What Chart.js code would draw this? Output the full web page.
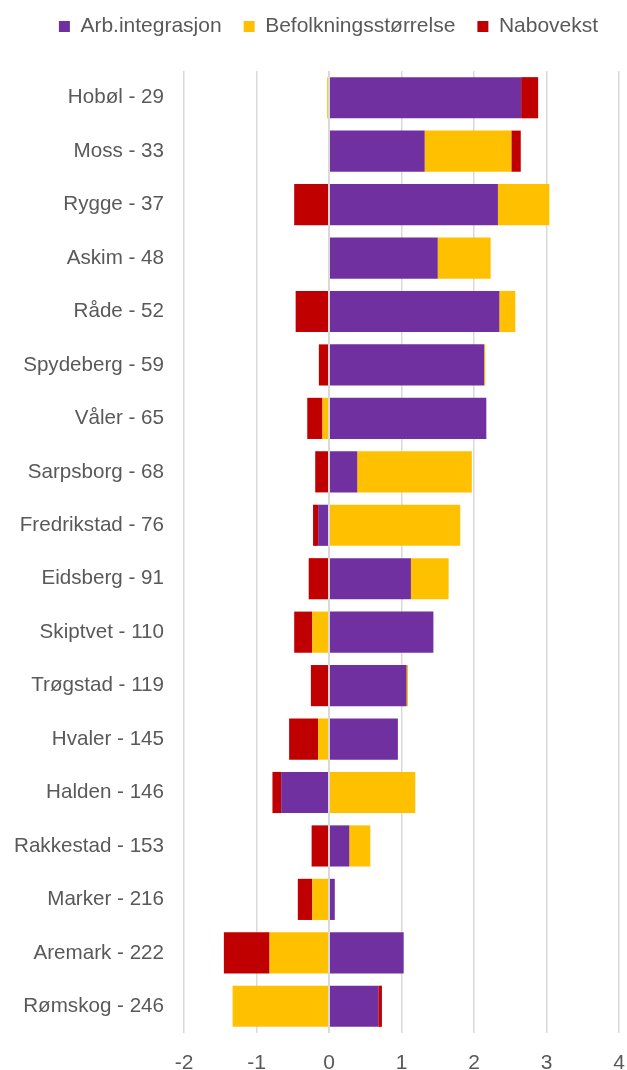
<!DOCTYPE html>
<html>
<head>
<meta charset="utf-8">
<script src="https://cdn.jsdelivr.net/npm/chart.js@4/dist/chart.umd.min.js"></script>
<style>
  html, body { margin: 0; padding: 0; background: #fff; }
  #wrap { width: 627px; height: 1070px; }
</style>
</head>
<body>
<div id="wrap"><canvas id="chart" width="627" height="1070"></canvas></div>
<script>
// kommune labels (top to bottom)
const kommuner = [
  "Hobøl - 29", "Moss - 33", "Rygge - 37", "Askim - 48", "Råde - 52",
  "Spydeberg - 59", "Våler - 65", "Sarpsborg - 68", "Fredrikstad - 76",
  "Eidsberg - 91", "Skiptvet - 110", "Trøgstad - 119", "Hvaler - 145",
  "Halden - 146", "Rakkestad - 153", "Marker - 216", "Aremark - 222",
  "Rømskog - 246"
];

const arbIntegrasjon = [2.65, 1.32, 2.33, 1.50, 2.35, 2.14, 2.17, 0.39, -0.15,
  1.13, 1.44, 1.07, 0.95, -0.66, 0.28, 0.08, 1.03, 0.68];
const befolkning = [-0.025, 1.195, 0.71, 0.73, 0.22, 0.015, -0.09, 1.58, 1.81,
  0.52, -0.23, 0.02, -0.15, 1.19, 0.29, -0.23, -0.82, -1.33];
const nabovekst = [0.235, 0.13, -0.48, 0, -0.46, -0.14, -0.21, -0.19, -0.07,
  -0.28, -0.25, -0.25, -0.40, -0.12, -0.24, -0.20, -0.63, 0.05];

const xMin = -2, xMax = 4;

const textColor = "#595959";
const gridColor = "#d9d9d9";
const fontFamily = "'Liberation Sans', Arial, sans-serif";

// zero line sits on top of the bars, like the Excel vertical axis
const zeroLine = {
  id: "zeroLine",
  afterDatasetsDraw(chart) {
    const { ctx, chartArea, scales } = chart;
    const x = scales.x.getPixelForValue(0);
    ctx.save();
    ctx.strokeStyle = gridColor;
    ctx.lineWidth = 2;
    ctx.beginPath();
    ctx.moveTo(x, chartArea.top);
    ctx.lineTo(x, chartArea.bottom);
    ctx.stroke();
    ctx.restore();
  }
};

// extra room under the legend, and nudge it a bit right
const legendTweak = {
  id: "legendTweak",
  beforeInit(chart) {
    const fit = chart.legend.fit;
    chart.legend.fit = function () {
      fit.call(this);
      this.height += 24;
    };
    const draw = chart.legend.draw;
    chart.legend.draw = function () {
      this.ctx.save();
      this.ctx.translate(15, 0);
      draw.call(this);
      this.ctx.restore();
    };
  }
};

new Chart(document.getElementById("chart").getContext("2d"), {
  type: "bar",
  data: {
    labels: kommuner,
    datasets: [
      { label: "Arb.integrasjon", data: arbIntegrasjon, backgroundColor: "#7030a0" },
      { label: "Befolkningsstørrelse", data: befolkning, backgroundColor: "#ffc000" },
      { label: "Nabovekst", data: nabovekst, backgroundColor: "#c00000" }
    ]
  },
  options: {
    indexAxis: "y",
    responsive: false,
    animation: false,
    layout: { padding: { left: 0, right: 0, top: -6, bottom: 0 } },
    datasets: {
      bar: { categoryPercentage: 1, barPercentage: 0.77 }
    },
    plugins: {
      tooltip: { enabled: false },
      legend: {
        position: "top",
        labels: {
          color: textColor,
          font: { family: fontFamily, size: 21 },
          boxWidth: 11,
          boxHeight: 11,
          padding: 22
        }
      }
    },
    scales: {
      x: {
        stacked: true,
        min: xMin,
        max: xMax,
        afterFit(scale) {
          scale.height = 37;
          scale.paddingLeft = 0;
          scale.paddingRight = 8;
        },
        ticks: {
          stepSize: 1,
          color: textColor,
          font: { family: fontFamily, size: 21 },
          padding: 18
        },
        grid: { color: gridColor, lineWidth: 1.5, drawTicks: false },
        border: { display: false }
      },
      y: {
        stacked: true,
        afterFit(scale) { scale.width = 184; },
        ticks: {
          color: textColor,
          font: { family: fontFamily, size: 20.6 },
          padding: 20
        },
        grid: { display: false, drawTicks: false },
        border: { display: false }
      }
    }
  },
  plugins: [zeroLine, legendTweak]
});
</script>
</body>
</html>
